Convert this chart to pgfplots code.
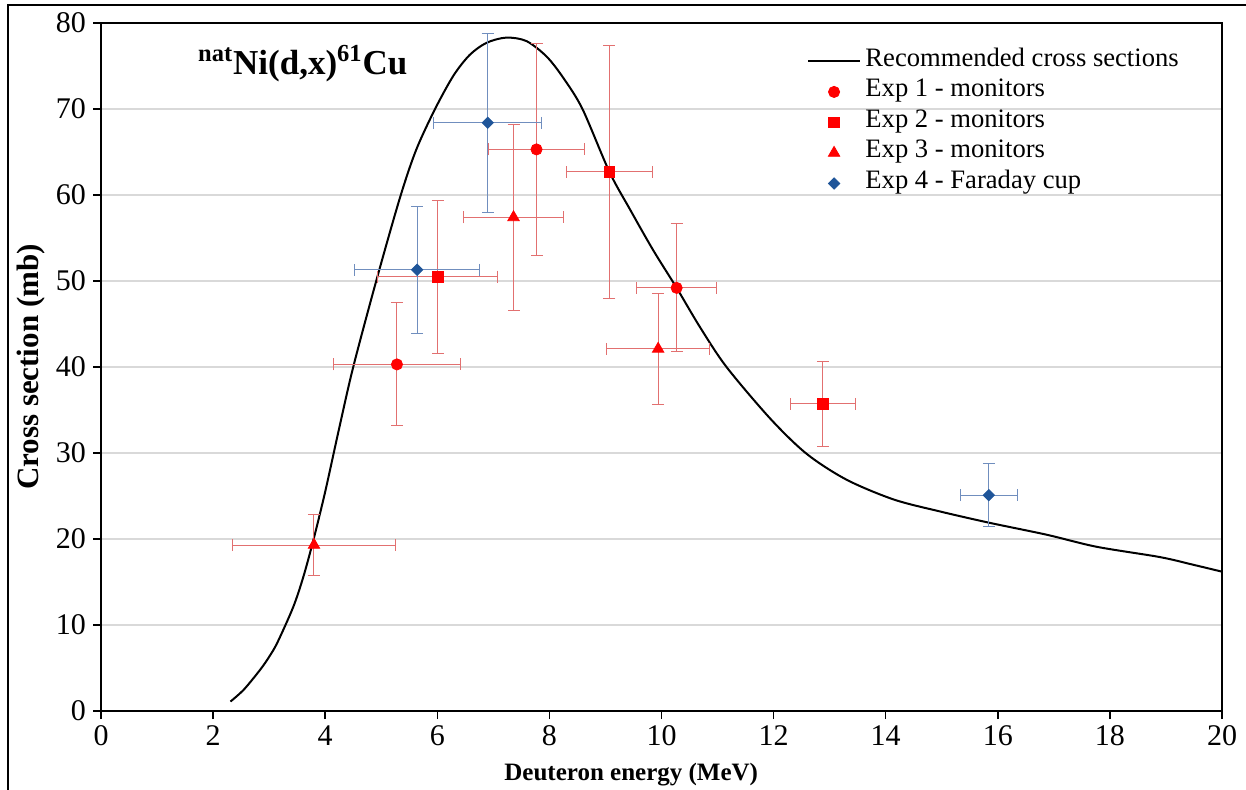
\documentclass[border=0pt]{standalone}
\usepackage{fontspec}
\setmainfont{Liberation Serif}
\usepackage{pgfplots}
\pgfplotsset{compat=1.18}
\definecolor{errred}{RGB}{226,112,112}
\definecolor{errblue}{RGB}{112,142,190}
\definecolor{dblue}{RGB}{31,85,153}
\definecolor{gridgray}{RGB}{217,217,217}

\pgfplotstableread{
x y
2.31 1.1
2.55 2.5
2.84 4.8
3.00 6.3
3.15 8.0
3.43 12.1
3.61 15.6
3.79 19.9
4.00 25.5
4.25 32.9
4.50 40.0
4.91 50.0
5.33 59.6
5.62 65.2
5.96 70.0
6.29 73.9
6.58 76.3
6.88 77.7
7.23 78.3
7.59 77.9
7.95 76.1
8.25 73.6
8.59 70.0
9.07 62.7
9.44 58.3
9.85 53.6
10.27 49.2
10.69 44.6
11.16 40.0
11.94 34.0
12.59 29.9
13.30 26.9
14.14 24.6
14.97 23.2
15.84 21.9
16.87 20.5
17.76 19.1
18.89 17.9
19.49 17.0
20.00 16.2
}\recommended

\pgfplotstableread{
x y ex ey
5.28 40.3 1.13 7.15
7.77 65.3 0.85 12.3
10.27 49.2 0.72 7.45
}\expone

\pgfplotstableread{
x y ex ey
6.01 50.5 1.07 8.9
9.07 62.7 0.77 14.7
12.88 35.7 0.58 4.95
}\exptwo

\pgfplotstableread{
x y ex ey
3.80 19.3 1.46 3.55
7.36 57.4 0.90 10.8
9.94 42.1 0.92 6.5
}\expthree

\pgfplotstableread{
x y ex ey
5.64 51.3 1.12 7.4
6.90 68.4 0.96 10.4
15.84 25.1 0.51 3.65
}\expfour

\begin{document}
\begin{tikzpicture}
\useasboundingbox (-50.5bp,-39.5bp) rectangle (572.5bp,355.5bp);
\draw[line width=0.75bp] (-46.5bp,-45bp) -- (-46.5bp,353bp) -- (580bp,353bp);
\begin{axis}[
  at={(0,0)}, anchor=south west,
  scale only axis, width=560.5bp, height=344bp,
  xmin=0, xmax=20, ymin=0, ymax=80,
  xtick={0,2,...,20}, ytick={0,10,...,80},
  tick pos=left, tick align=outside, major tick length=4bp,
  every tick/.style={black, line width=0.75bp},
  axis line style={line width=0.75bp},
  ymajorgrids, major grid style={gridgray, line width=0.8bp},
  tick label style={font=\fontsize{15bp}{17bp}\selectfont},
  /pgf/number format/assume math mode=true,
  xlabel={\textbf{Deuteron energy (MeV)}},
  ylabel={\textbf{Cross section (mb)}},
  xlabel style={font=\fontsize{12.5bp}{15bp}\selectfont, at={(axis description cs:0.473,-0.093)}, anchor=center},
  ylabel style={font=\fontsize{15.5bp}{18bp}\selectfont, at={(axis description cs:-0.062,0.5)}, anchor=center},
  legend image code/.code={\draw[mark repeat=2,mark phase=2,#1] plot coordinates {(0bp,0bp)(13bp,0bp)(26bp,0bp)};},
  legend style={at={(rel axis cs:0.6295,0.962)}, anchor=north west, draw=none, fill=none,
    font=\fontsize{13.3bp}{15bp}\selectfont, row sep=3.4bp, inner sep=0bp,
    nodes={inner sep=1.2bp, text height=0.72em, text depth=0.23em},
    /tikz/every odd column/.append style={column sep=1bp}},
  legend cell align=left,
]
\addplot[black, line width=1bp, no marks, smooth, tension=0.5] table[x=x,y=y]{\recommended};
\addlegendentry{Recommended cross sections}

\addplot[only marks, mark=*, mark size=2.8bp, draw=red, fill=red,
  error bars/.cd, x dir=both, x explicit, y dir=both, y explicit,
  error bar style={errred, line width=0.5bp},
  error mark options={rotate=90, errred, mark size=3bp, line width=0.5bp}]
  table[x=x,y=y,x error=ex,y error=ey]{\expone};
\addlegendentry{Exp 1 - monitors}

\addplot[only marks, mark=square*, mark size=2.7bp, draw=red, fill=red,
  error bars/.cd, x dir=both, x explicit, y dir=both, y explicit,
  error bar style={errred, line width=0.5bp},
  error mark options={rotate=90, errred, mark size=3bp, line width=0.5bp}]
  table[x=x,y=y,x error=ex,y error=ey]{\exptwo};
\addlegendentry{Exp 2 - monitors}

\addplot[only marks, mark=triangle*, mark size=3.3bp, draw=red, fill=red,
  error bars/.cd, x dir=both, x explicit, y dir=both, y explicit,
  error bar style={errred, line width=0.5bp},
  error mark options={rotate=90, errred, mark size=3bp, line width=0.5bp}]
  table[x=x,y=y,x error=ex,y error=ey]{\expthree};
\addlegendentry{Exp 3 - monitors}

\addplot[only marks, mark=square*, mark size=2bp, mark options={rotate=45}, draw=dblue, fill=dblue,
  error bars/.cd, x dir=both, x explicit, y dir=both, y explicit,
  error bar style={errblue, line width=0.5bp},
  error mark options={rotate=90, errblue, mark size=3bp, line width=0.5bp}]
  table[x=x,y=y,x error=ex,y error=ey]{\expfour};
\addlegendentry{Exp 4 - Faraday cup}

\node[font=\bfseries\fontsize{17.5bp}{20bp}\selectfont] at (axis cs:3.6,75.3)
  {\textsuperscript{nat}Ni(d,x)\textsuperscript{61}Cu};
\end{axis}
\end{tikzpicture}
\end{document}
